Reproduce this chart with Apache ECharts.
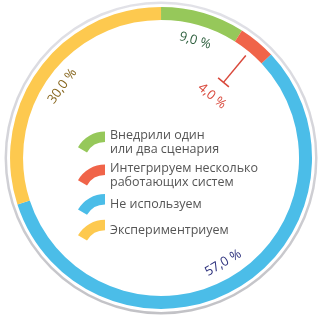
<!DOCTYPE html>
<html><head><meta charset="utf-8">
<script src="https://cdn.jsdelivr.net/npm/echarts@6/dist/echarts.min.js"></script>
<style>html,body{margin:0;padding:0;background:#fff}#c{width:324px;height:319px}</style>
</head><body><div id="c"></div>
<script>
// ---- data ----
const categories = ['Внедрили один\nили два сценария', 'Интегрируем несколько\nработающих систем', 'Не используем', 'Экспериментриуем'];
const values = [9.0, 4.0, 57.0, 30.0];
const valueLabels = ['9,0 %', '4,0 %', '57,0 %', '30,0 %'];
const colors = ['#96c85a', '#f06449', '#4bbde8', '#fdc94f'];
const labelColors = ['#2c5e3c', '#d9483b', '#2b2f7c', '#86651c'];

// ---- layout ----
const CENTER = ['49.7%', '49.5%'];
const POLAR_R = 160;
const RING = [138, 151];
const LABEL_R = 122;
const LEADER_INDEX = 1;
const iconPath = 'path://M4.02 15 A30 30 0 0 1 30 0 L30 10 A20 20 0 0 0 12.68 20 Z';

const total = values.reduce((a, b) => a + b, 0);
let acc = 0;
const mids = values.map(v => { const m = acc + v / 2; acc += v; return m / total * 100; });

const chart = echarts.init(document.getElementById('c'), null, { renderer: 'canvas' });

function renderLabel(params, api) {
  const i = params.dataIndex;
  const mid = api.value(1);
  const theta = mid / 100 * 360;
  let rot = -theta;
  if (theta > 90 && theta < 270) rot += 180;
  const font = { fontFamily: 'Open Sans', fontSize: 13, fill: labelColors[i], align: 'center', verticalAlign: 'middle' };
  if (i === LEADER_INDEX) {
    const p1 = api.coord([133, mid]);
    const p2 = api.coord([98, mid]);
    const dx = p2[0] - p1[0], dy = p2[1] - p1[1];
    const len = Math.sqrt(dx * dx + dy * dy);
    const nx = -dy / len * 7, ny = dx / len * 7;
    const pl = api.coord([80, mid]);
    return {
      type: 'group',
      children: [
        { type: 'line', shape: { x1: p1[0], y1: p1[1], x2: p2[0], y2: p2[1] }, style: { stroke: labelColors[i], lineWidth: 1.5 } },
        { type: 'line', shape: { x1: p2[0] - nx, y1: p2[1] - ny, x2: p2[0] + nx, y2: p2[1] + ny }, style: { stroke: labelColors[i], lineWidth: 1.5 } },
        { type: 'text', x: pl[0], y: pl[1], rotation: rot * Math.PI / 180, style: Object.assign({ text: valueLabels[i] }, font) }
      ]
    };
  }
  const p = api.coord([LABEL_R, mid]);
  return { type: 'text', x: p[0], y: p[1], rotation: rot * Math.PI / 180, style: Object.assign({ text: valueLabels[i] }, font) };
}

chart.setOption({
  animation: false,
  polar: { center: CENTER, radius: POLAR_R },
  angleAxis: { type: 'value', min: 0, max: 100, startAngle: 90, clockwise: true, show: false },
  radiusAxis: { type: 'value', min: 0, max: POLAR_R, show: false },
  legend: {
    orient: 'vertical', left: 73, top: 123,
    itemWidth: 27, itemHeight: 22, itemGap: 5,
    selectedMode: false,
    icon: iconPath,
    data: categories,
    textStyle: { fontFamily: 'Open Sans', fontSize: 12.5, color: '#555', lineHeight: 14 }
  },
  series: [
    {
      type: 'pie', center: CENTER, radius: [154, 156.5], silent: true,
      label: { show: false }, labelLine: { show: false },
      itemStyle: { color: new echarts.graphic.LinearGradient(0, 0, 0, 1, [{ offset: 0, color: '#e2e2e8' }, { offset: 1, color: '#c2c2c6' }]) },
      data: [{ value: 1, name: '' }], legendHoverLink: false
    },
    {
      type: 'pie', center: CENTER, radius: RING, startAngle: 90, clockwise: true, silent: true,
      label: { show: false }, labelLine: { show: false },
      data: categories.map((c, i) => ({ name: c, value: values[i], itemStyle: { color: colors[i] } }))
    },
    {
      type: 'custom', coordinateSystem: 'polar', silent: true,
      renderItem: renderLabel,
      data: mids.map(m => [0, m])
    }
  ]
});
</script></body></html>
